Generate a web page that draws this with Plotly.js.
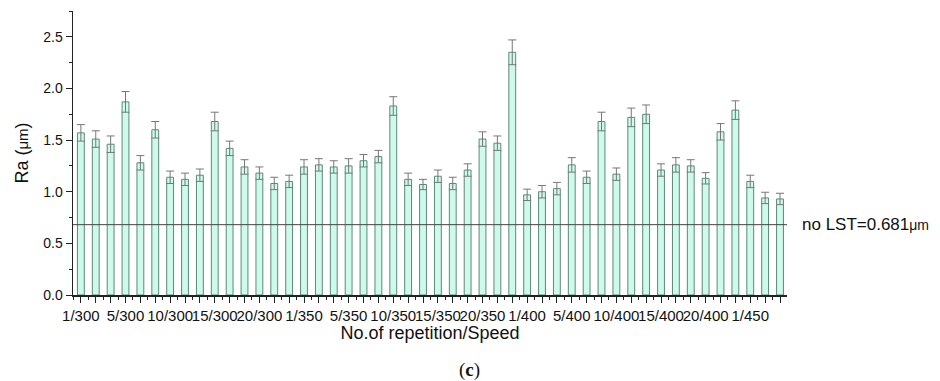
<!DOCTYPE html>
<html>
<head>
<meta charset="utf-8">
<script src="https://cdn.plot.ly/plotly-3.0.1.min.js"></script>
<style>html,body{margin:0;padding:0;background:#fff;}#chart{width:940px;height:381px;}</style>
</head>
<body>
<div id="chart"></div>
<script>
// Bar positions 1..48 (categories), labelled every third bar
const positions = [1,2,3,4,5,6,7,8,9,10,11,12,13,14,15,16,17,18,19,20,21,22,23,24,25,26,27,28,29,30,31,32,33,34,35,36,37,38,39,40,41,42,43,44,45,46,47,48];
const tickPositions = [1,4,7,10,13,16,19,22,25,28,31,34,37,40,43,46];
const tickLabels = ["1/300","5/300","10/300","15/300","20/300","1/350","5/350","10/350","15/350","20/350","1/400","5/400","10/400","15/400","20/400","1/450"];
const raValues = [1.57,1.51,1.46,1.87,1.28,1.60,1.14,1.12,1.16,1.68,1.42,1.24,1.18,1.08,1.10,
                  1.24,1.26,1.24,1.25,1.30,1.34,1.83,1.12,1.07,1.15,1.08,1.21,1.51,1.47,2.35,
                  0.97,1.00,1.03,1.26,1.14,1.68,1.17,1.72,1.75,1.21,1.26,1.25,1.13,1.58,1.79,
                  1.10,0.94,0.93];
const raErrors = [0.08,0.08,0.08,0.10,0.07,0.08,0.06,0.06,0.06,0.09,0.07,0.07,0.06,0.06,0.06,
                  0.07,0.06,0.06,0.07,0.06,0.06,0.09,0.06,0.05,0.06,0.06,0.06,0.07,0.07,0.12,
                  0.055,0.06,0.06,0.07,0.06,0.09,0.06,0.09,0.09,0.06,0.07,0.06,0.055,0.08,0.09,
                  0.06,0.055,0.055];
const referenceValue = [0.681];
const referenceLabel = "no LST=0.681<span style=\"font-size:14px\">\u03bcm</span>";

const allTickText = positions.map(p => {
  const i = tickPositions.indexOf(p);
  return i >= 0 ? tickLabels[i] : "";
});

const font = "'Liberation Sans', Arial, sans-serif";

const trace = {
  type: "bar",
  x: positions,
  y: raValues,
  width: 0.46,
  marker: {color: "#cdfaea", line: {color: "#5f877a", width: 1}},
  error_y: {type: "data", array: raErrors, visible: true, color: "#777", thickness: 1, width: 4},
  hoverinfo: "x+y"
};

const layout = {
  width: 940, height: 381,
  margin: {l: 73, r: 153, t: 11, b: 86},
  paper_bgcolor: "#fff", plot_bgcolor: "#fff",
  showlegend: false,
  bargap: 0.5,
  xaxis: {
    range: [0.47, 48.47],
    tickmode: "array", tickvals: positions, ticktext: allTickText,
    ticks: "outside", ticklen: 6, tickwidth: 1, tickcolor: "#222",
    minor: {tick0: 0.5, dtick: 1, ticks: "outside", ticklen: 3, tickwidth: 1, tickcolor: "#222"},
    showline: true, linecolor: "#222", linewidth: 1.5,
    showgrid: false, zeroline: false,
    tickfont: {family: font, size: 15, color: "#111"},
    tickangle: 0,
    title: {text: "No.of repetition/Speed", font: {family: font, size: 18, color: "#111"}, standoff: 2}
  },
  yaxis: {
    range: [0, 2.75],
    tickmode: "array", tickvals: [0, 0.5, 1.0, 1.5, 2.0, 2.5],
    ticktext: ["0.0","0.5","1.0","1.5","2.0","2.5"],
    ticks: "outside", ticklen: 6, tickwidth: 1, tickcolor: "#222",
    minor: {tick0: 0.25, dtick: 0.5, ticks: "outside", ticklen: 3, tickwidth: 1, tickcolor: "#222"},
    showline: true, linecolor: "#222", linewidth: 1.5,
    showgrid: false, zeroline: false,
    tickfont: {family: font, size: 14, color: "#111"},
    title: {text: "Ra (<span style=\"font-size:15px\">\u03bcm</span>)", font: {family: font, size: 18, color: "#111"}, standoff: 10}
  },
  shapes: [{
    type: "line", xref: "paper", x0: 0, x1: 1, yref: "y",
    y0: referenceValue[0], y1: referenceValue[0],
    line: {color: "#444", width: 1}
  }],
  annotations: [
    {xref: "paper", x: 1.018, xanchor: "left", yref: "y", y: referenceValue[0], yanchor: "middle",
     text: referenceLabel, showarrow: false, font: {family: font, size: 17, color: "#111"}},
    {xref: "paper", x: 0.556, xanchor: "center", yref: "paper", yanchor: "middle", y: -0.265,
     text: "(<b>c</b>)", showarrow: false, font: {family: "'Liberation Serif', serif", size: 19, color: "#111"}}
  ]
};

Plotly.newPlot("chart", [trace], layout, {displayModeBar: false, staticPlot: true});
</script>
</body>
</html>
